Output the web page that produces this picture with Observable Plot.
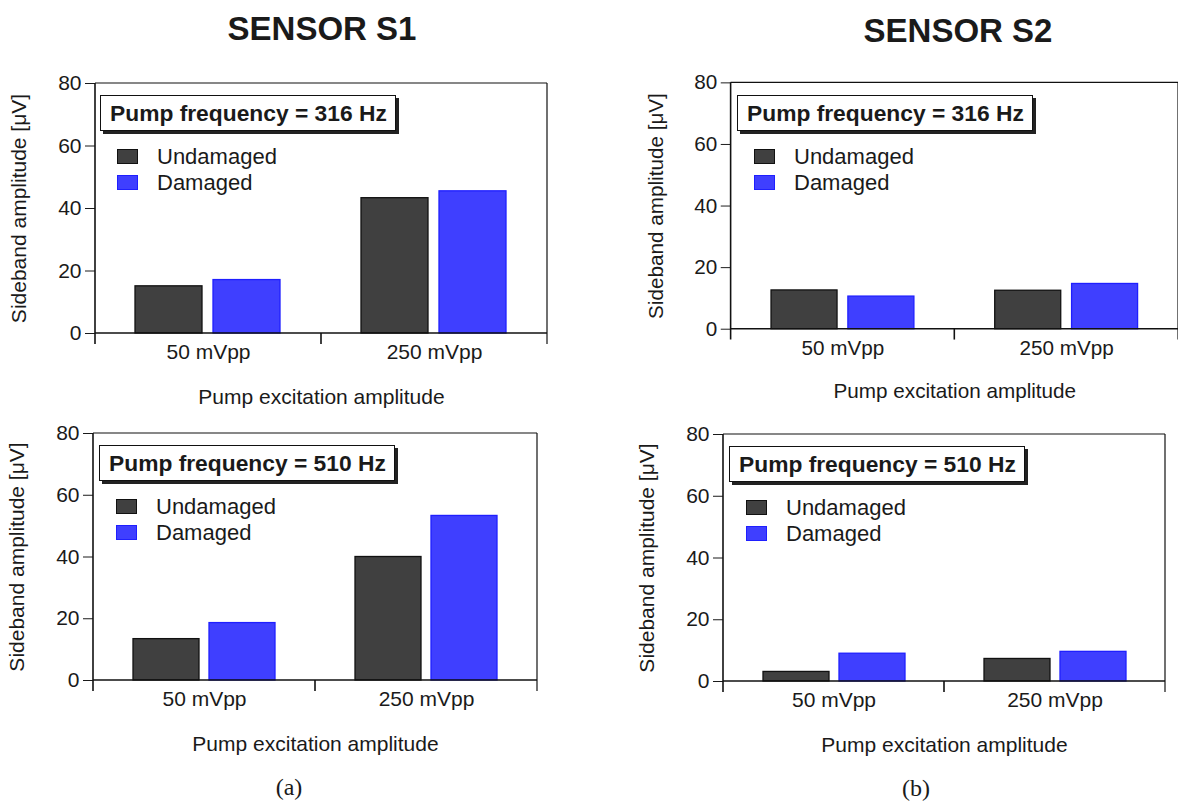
<!DOCTYPE html>
<html>
<head>
<meta charset="utf-8">
<script src="https://cdn.jsdelivr.net/npm/d3@7"></script>
<script src="https://cdn.jsdelivr.net/npm/@observablehq/plot@0.6"></script>
<style>
  html, body { margin: 0; padding: 0; background: #fff; }
  #page { position: relative; width: 1178px; height: 803px; overflow: hidden; background: #fff; font-family: "Liberation Sans", Arial, sans-serif; color: #1a1a1a; }
  .panel { position: absolute; }
  .title { position: absolute; width: 400px; text-align: center; font-weight: bold; font-size: 33px; line-height: 1; }
  .caption { position: absolute; width: 100px; text-align: center; font-family: "Liberation Serif", "Times New Roman", serif; font-size: 24px; line-height: 1; }
  .fbox { position: absolute; border: 1.5px solid #111; box-shadow: 3px 3px 0 #222; background: #fff; font-weight: bold; font-size: 22.8px; height: 34px; line-height: 34px; padding: 0 8px 0 9px; white-space: nowrap; }
  .item { position: absolute; font-size: 22px; line-height: 1; white-space: nowrap; }
  .sw { display: inline-block; width: 19px; height: 13px; vertical-align: middle; margin-right: 19px; position: relative; top: -2px; }
</style>
</head>
<body>
<div id="page"></div>
<script>
// ---------- data ----------
const categories = ["50 mVpp", "250 mVpp"];
const series = ["Undamaged", "Damaged"];
const yTicks = [0, 20, 40, 60, 80];
const sensorTitles = ["SENSOR S1", "SENSOR S2"];
const freqLabels = ["Pump frequency = 316 Hz", "Pump frequency = 510 Hz"];
const captions = ["(a)", "(b)"];
const xLabel = "Pump excitation amplitude";
const yLabel = "Sideband amplitude [\u03BCV]";

const s1f316Undamaged = [15.1, 43.3];
const s1f316Damaged   = [17.1, 45.5];
const s2f316Undamaged = [12.6, 12.5];
const s2f316Damaged   = [10.6, 14.7];
const s1f510Undamaged = [13.4, 40.0];
const s1f510Damaged   = [18.6, 53.3];
const s2f510Undamaged = [3.1, 7.3];
const s2f510Damaged   = [9.0, 9.6];

// ---------- styles ----------
const fills = ["#404040", "#3f3fff"];
const strokes = ["#111111", "#1f1fff"];

const page = document.getElementById("page");

function panel(cfg) {
  const data = categories.flatMap((c, i) => [
    {category: c, series: series[0], value: cfg.und[i]},
    {category: c, series: series[1], value: cfg.dam[i]}
  ]);
  const width = cfg.mL + cfg.pw + cfg.mR;
  const height = cfg.mT + cfg.ph + cfg.mB;
  const chart = Plot.plot({
    width, height,
    marginLeft: cfg.mL, marginRight: cfg.mR, marginTop: cfg.mT, marginBottom: cfg.mB,
    style: {fontFamily: "'Liberation Sans', Arial, sans-serif", fontSize: "21px", color: "#1a1a1a", background: "transparent", overflow: "visible"},
    fx: {domain: categories, padding: 0, axis: "bottom", label: xLabel, labelAnchor: "center", labelOffset: 70, tickSize: 0, tickPadding: 11},
    x: {domain: series, paddingInner: 0.135, paddingOuter: 0.51, axis: null},
    y: {domain: [0, 80], ticks: yTicks, tickSize: 10, tickPadding: 4, label: yLabel, labelAnchor: "center", labelOffset: 84, labelArrow: "none"},
    color: {domain: series, range: fills},
    marks: [
      Plot.barY(data.filter(d => d.series === series[0]), {fx: "category", x: "series", y: "value", fill: "series", stroke: strokes[0], strokeWidth: 1.3}),
      Plot.barY(data.filter(d => d.series === series[1]), {fx: "category", x: "series", y: "value", fill: "series", stroke: strokes[1], strokeWidth: 1.3})
    ]
  });
  // frame lines and category boundary ticks from the plot's own scales
  const fx = chart.scale("fx");
  const y = chart.scale("y");
  const yb = y.apply(0), yt = y.apply(80);
  const starts = categories.map(c => fx.apply(c));
  const left = starts[0];
  const right = starts[starts.length - 1] + fx.bandwidth;
  const g = d3.select(chart).append("g").attr("stroke", "#111").attr("fill", "none");
  g.append("line").attr("x1", left).attr("x2", right).attr("y1", yt).attr("y2", yt).attr("stroke-width", 1.2);
  g.append("line").attr("x1", right).attr("x2", right).attr("y1", yt).attr("y2", yb + 11).attr("stroke-width", 1.2);
  g.append("line").attr("x1", left).attr("x2", left).attr("y1", yt).attr("y2", yb + 11).attr("stroke-width", 1.6);
  g.append("line").attr("x1", left).attr("x2", right).attr("y1", yb).attr("y2", yb).attr("stroke-width", 1.6);
  starts.slice(1).forEach(s => g.append("line").attr("x1", s).attr("x2", s).attr("y1", yb).attr("y2", yb + 11).attr("stroke-width", 1.6));

  const wrap = document.createElement("div");
  wrap.className = "panel";
  wrap.style.left = cfg.left + "px";
  wrap.style.top = cfg.top + "px";
  wrap.appendChild(chart);

  const box = document.createElement("div");
  box.className = "fbox";
  box.textContent = cfg.freq;
  box.style.left = (cfg.mL + 6) + "px";
  box.style.top = (cfg.mT + 12) + "px";
  wrap.appendChild(box);

  series.forEach((s, i) => {
    const it = document.createElement("div");
    it.className = "item";
    it.style.left = (cfg.mL + 23) + "px";
    it.style.top = (cfg.mT + 63 + i * 26) + "px";
    const sw = document.createElement("span");
    sw.className = "sw";
    sw.style.background = fills[i];
    sw.style.border = "1.3px solid " + strokes[i];
    it.appendChild(sw);
    it.appendChild(document.createTextNode(s));
    wrap.appendChild(it);
  });
  page.appendChild(wrap);
}

panel({left: 0,   top: 40,  mL: 94, mT: 43, pw: 453, ph: 250, mR: 10, mB: 85, und: s1f316Undamaged, dam: s1f316Damaged, freq: freqLabels[0]});
panel({left: 637, top: 40,  mL: 94, mT: 43, pw: 455, ph: 250, mR: 0,  mB: 85, und: s2f316Undamaged, dam: s2f316Damaged, freq: freqLabels[0]});
panel({left: 0,   top: 390, mL: 93, mT: 43, pw: 444, ph: 247, mR: 10, mB: 85, und: s1f510Undamaged, dam: s1f510Damaged, freq: freqLabels[1]});
panel({left: 629, top: 390, mL: 94, mT: 44, pw: 442, ph: 247, mR: 10, mB: 85, und: s2f510Undamaged, dam: s2f510Damaged, freq: freqLabels[1]});

[[sensorTitles[0], 322, 12], [sensorTitles[1], 958, 14]].forEach(([t, cx, top]) => {
  const d = document.createElement("div");
  d.className = "title";
  d.textContent = t;
  d.style.left = (cx - 200) + "px";
  d.style.top = top + "px";
  page.appendChild(d);
});
[[captions[0], 289, 775], [captions[1], 916, 776]].forEach(([t, cx, top]) => {
  const d = document.createElement("div");
  d.className = "caption";
  d.textContent = t;
  d.style.left = (cx - 50) + "px";
  d.style.top = top + "px";
  page.appendChild(d);
});
</script>
</body>
</html>
